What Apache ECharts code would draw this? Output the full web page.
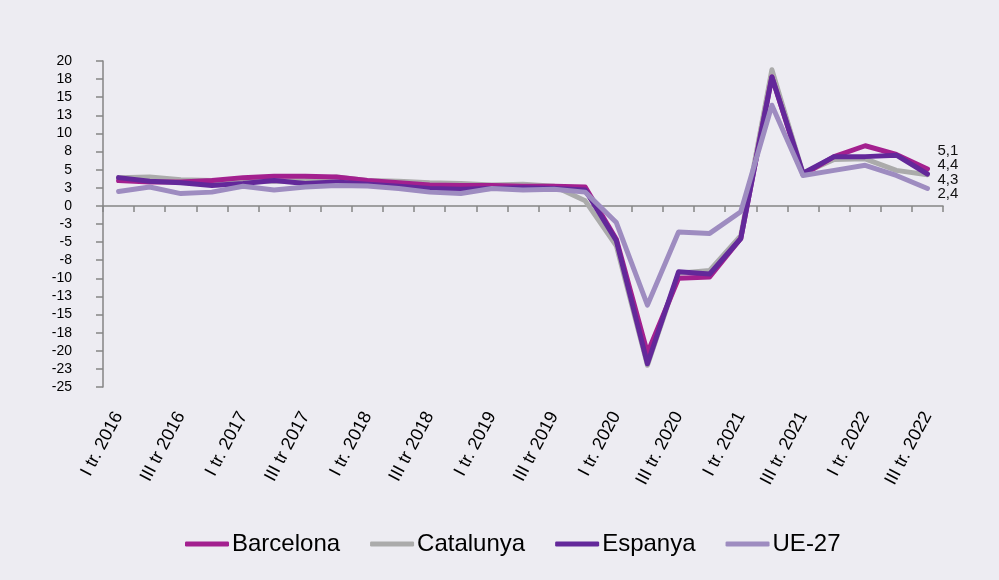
<!DOCTYPE html>
<html>
<head>
<meta charset="utf-8">
<title>PIB variació interanual</title>
<script src="https://cdn.jsdelivr.net/npm/echarts@6/dist/echarts.min.js"></script>
<style>
  html, body { margin: 0; padding: 0; background: #edecf2; }
  #chart { width: 999px; height: 580px; }
</style>
</head>
<body>
<div id="chart"></div>
<script>
// trimestres
const categories = [
  'I tr. 2016', 'II tr. 2016', 'III tr 2016', 'IV tr. 2016',
  'I tr. 2017', 'II tr. 2017', 'III tr 2017', 'IV tr. 2017',
  'I tr. 2018', 'II tr. 2018', 'III tr 2018', 'IV tr. 2018',
  'I tr. 2019', 'II tr. 2019', 'III tr 2019', 'IV tr. 2019',
  'I tr. 2020', 'II tr. 2020', 'III tr. 2020', 'IV tr. 2020',
  'I tr. 2021', 'II tr. 2021', 'III tr. 2021', 'IV tr. 2021',
  'I tr. 2022', 'II tr. 2022', 'III tr. 2022'
]

const barcelona = [3.5, 3.3, 3.3, 3.5, 3.9, 4.1, 4.1, 4.0, 3.5, 3.2, 2.9, 2.8, 2.8, 2.7, 2.7, 2.6,
  -4.6, -20.3, -10.0, -9.8, -4.5, 17.8, 4.3, 6.8, 8.3, 7.1, 5.1]
const catalunya = [3.9, 4.0, 3.6, 3.5, 3.5, 3.4, 3.5, 4.0, 3.5, 3.4, 3.2, 3.1, 2.9, 3.0, 2.7, 0.7,
  -5.5, -22.0, -9.3, -8.9, -4.1, 18.8, 4.5, 6.4, 6.5, 4.9, 4.3]
const espanya = [3.9, 3.4, 3.2, 2.8, 3.1, 3.5, 3.1, 3.3, 3.0, 2.7, 2.4, 2.3, 2.4, 2.5, 2.4, 2.2,
  -4.8, -21.8, -9.1, -9.4, -4.5, 17.8, 4.5, 6.8, 6.8, 7.0, 4.4]
const ue27 = [2.0, 2.6, 1.7, 1.9, 2.7, 2.2, 2.6, 2.8, 2.75, 2.4, 1.9, 1.7, 2.4, 2.2, 2.3, 1.9,
  -2.3, -13.7, -3.6, -3.8, -0.8, 13.9, 4.2, 4.9, 5.6, 4.2, 2.4]

// etiquetes de l'eix Y (cada 2,5 punts, arrodonides)
const yLabels = ['20', '18', '15', '13', '10', '8', '5', '3', '0', '-3', '-5', '-8',
  '-10', '-13', '-15', '-18', '-20', '-23', '-25']

const FONT = '"Liberation Sans", Arial, sans-serif'

const makeSeries = (name, data, color, z, offsetY) => ({
  name,
  type: 'line',
  data,
  z,
  symbol: 'none',
  smooth: false,
  lineStyle: { color, width: 5, cap: 'round', join: 'round' },
  itemStyle: { color },
  endLabel: {
    show: true,
    distance: 10,
    offset: [0, offsetY],
    color: '#111',
    fontSize: 15,
    fontFamily: FONT,
    formatter: p => String(p.value).replace('.', ',')
  }
})

const chart = echarts.init(document.getElementById('chart'))

chart.setOption({
  backgroundColor: '#edecf2',
  animation: false,
  grid: { left: 103, right: 56, top: 61, bottom: 193, containLabel: false },
  legend: {
    left: 180,
    top: 527,
    icon: 'roundRect',
    itemWidth: 44,
    itemHeight: 5,
    itemGap: 30,
    textStyle: { color: '#000', fontSize: 24, fontFamily: FONT, padding: [0, 0, 0, -2] },
    data: ['Barcelona', 'Catalunya', 'Espanya', 'UE-27']
  },
  xAxis: [
    {
      type: 'category',
      data: categories,
      boundaryGap: true,
      axisLine: { onZero: true, lineStyle: { color: '#858585', width: 1.5 } },
      axisTick: { show: true, interval: 0, length: 6, lineStyle: { color: '#858585', width: 1.5 } },
      axisLabel: { show: false }
    },
    {
      type: 'category',
      data: categories,
      position: 'bottom',
      boundaryGap: true,
      axisLine: { show: false, onZero: false },
      axisTick: { show: false },
      axisLabel: {
        interval: 1,
        rotate: 62,
        margin: 26,
        color: '#000',
        fontSize: 18,
        fontFamily: FONT
      }
    }
  ],
  yAxis: {
    type: 'value',
    min: -25,
    max: 20,
    interval: 2.5,
    axisLine: { show: true, lineStyle: { color: '#858585', width: 1.5 } },
    axisTick: { show: true, length: 7, lineStyle: { color: '#858585', width: 1.5 } },
    splitLine: { show: false },
    axisLabel: {
      margin: 31,
      color: '#000',
      fontSize: 14,
      fontFamily: FONT,
      formatter: v => yLabels[Math.round((20 - v) / 2.5)]
    }
  },
  series: [
    makeSeries('Barcelona', barcelona, '#a3208f', 3, -18),
    makeSeries('Catalunya', catalunya, '#ababab', 2, 5),
    makeSeries('Espanya', espanya, '#63289a', 4, -9),
    makeSeries('UE-27', ue27, '#9e8cc0', 5, 5)
  ]
})

window.addEventListener('resize', () => chart.resize())
</script>
</body>
</html>
